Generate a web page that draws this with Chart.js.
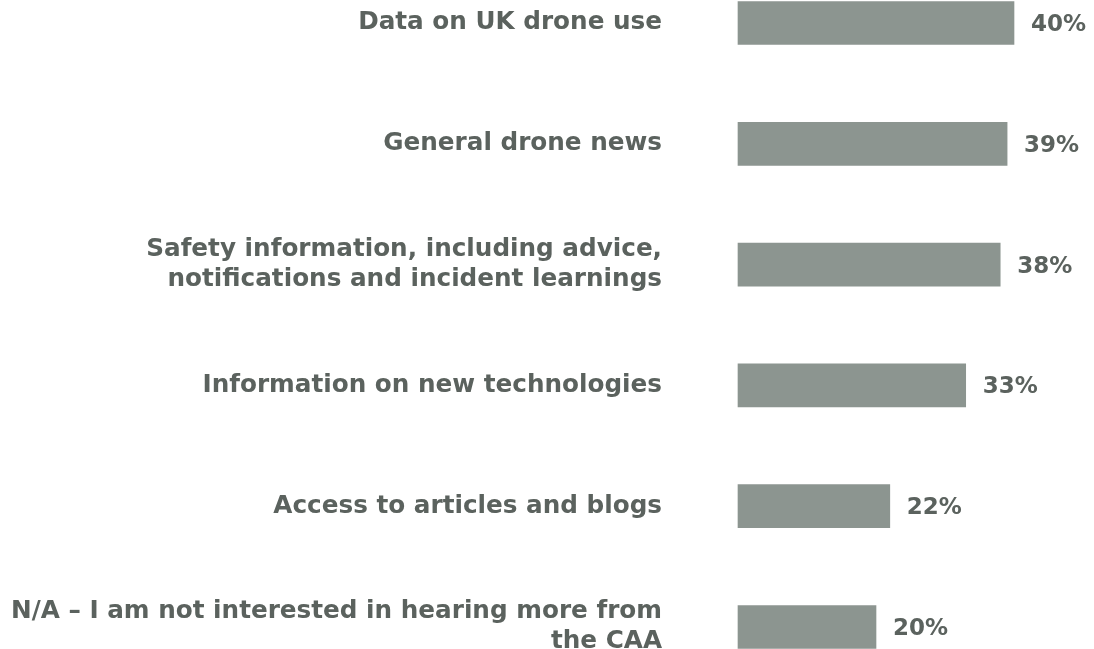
<!DOCTYPE html>
<html>
<head>
<meta charset="utf-8">
<script src="https://cdn.jsdelivr.net/npm/chart.js@4/dist/chart.umd.min.js"></script>
<style>
  html, body { margin: 0; padding: 0; background: #ffffff; }
  #wrap { width: 1094px; height: 649px; position: relative; }
</style>
</head>
<body>
<div id="wrap"><canvas id="chart"></canvas></div>
<script>
// chart data
const categories = [
    'Data on UK drone use',
    'General drone news',
    ['Safety information, including advice,', 'notifications and incident learnings'],
    'Information on new technologies',
    'Access to articles and blogs',
    ['N/A \u2013 I am not interested in hearing more from', 'the CAA']
];
const shares = [40, 39, 38, 33, 22, 20];

const barColor = '#8c9590';
const textColor = '#5b625e';
const fontFamily = '"DejaVu Sans", sans-serif';

// write the percentage just past the end of each bar
const valueLabels = {
    id: 'valueLabels',
    afterDatasetsDraw(chart) {
        const ctx = chart.ctx;
        const meta = chart.getDatasetMeta(0);
        ctx.save();
        ctx.font = 'bold 23px ' + fontFamily;
        ctx.fillStyle = textColor;
        ctx.textAlign = 'left';
        ctx.textBaseline = 'middle';
        meta.data.forEach((bar, i) => {
            ctx.fillText(shares[i] + '%', bar.x + 17, bar.y + 2);
        });
        ctx.restore();
    }
};

new Chart(document.getElementById('chart'), {
    type: 'bar',
    data: {
        labels: categories,
        datasets: [{
            data: shares,
            backgroundColor: barColor,
            borderWidth: 0,
            barThickness: 43,
            clip: false
        }]
    },
    options: {
        indexAxis: 'y',
        responsive: true,
        maintainAspectRatio: false,
        animation: false,
        layout: { padding: { top: 23, bottom: 22, right: 11, left: 0 } },
        plugins: {
            legend: { display: false },
            tooltip: { enabled: false }
        },
        scales: {
            x: {
                min: 0,
                max: 50,
                display: false
            },
            y: {
                offset: false,
                border: { display: false },
                grid: { display: false, drawTicks: false },
                afterFit(scale) {
                    scale.width = 738;
                    scale.paddingTop = 0;
                    scale.paddingBottom = 0;
                },
                ticks: {
                    padding: 76,
                    color: textColor,
                    font: { family: fontFamily, size: 24.7, weight: 'bold', lineHeight: 1.22 }
                }
            }
        }
    },
    plugins: [valueLabels]
});
</script>
</body>
</html>
